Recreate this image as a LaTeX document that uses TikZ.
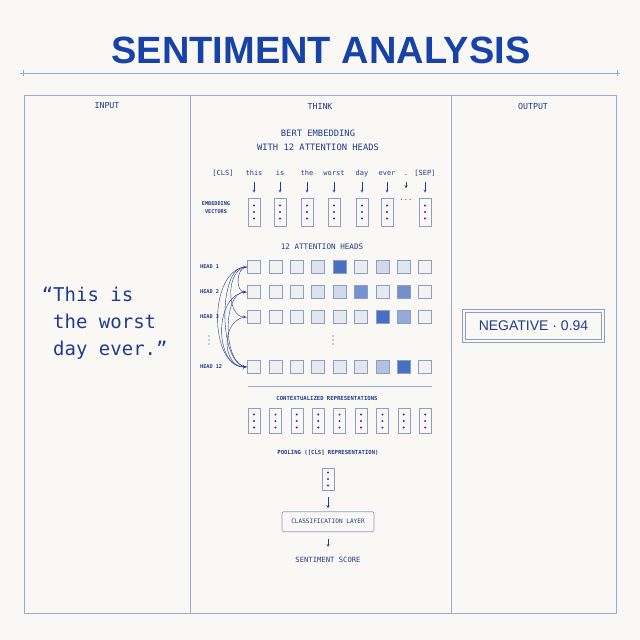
\documentclass[tikz,border=0pt]{standalone}
\usepackage{fontspec}
\setmainfont{Liberation Sans}
\setmonofont{DejaVu Sans Mono}
\usetikzlibrary{positioning}

\definecolor{paper}{HTML}{FAF8F4}
\definecolor{ink}{HTML}{1F3C8F}
\definecolor{headline}{HTML}{1742A8}
\definecolor{framecol}{HTML}{9AAAD4}
\definecolor{cellline}{HTML}{8E9DC5}
\definecolor{heat}{HTML}{2D5DBE}

\tikzset{
  mono/.style={font=\ttfamily\fontsize{#1}{#1}\selectfont, text=ink, inner sep=1pt},
  token/.style={mono=7, text height=5.5pt, text depth=1.5pt},
  tiny/.style={font=\ttfamily\bfseries\fontsize{#1}{#1}\selectfont, text=ink,
    inner sep=1pt, text height=4.2pt, text depth=1pt},
  tiny/.default=5.2,
  vector/.style={draw=cellline, line width=0.6pt, minimum width=12pt,
    minimum height=#1, inner sep=0pt,
    path picture={\foreach \d in {-1,0,1}
      \fill[ink] ([yshift=\d*6.5pt]path picture bounding box.center) circle (1.1pt);}},
  vector/.default=28pt,
  vdotsmark/.style={minimum width=4pt, minimum height=12pt, inner sep=0pt,
    path picture={\foreach \d in {-1,0,1}
      \fill[ink] ([yshift=\d*4pt]path picture bounding box.center) circle (0.7pt);}},
  cell/.style={draw=cellline, line width=0.6pt, minimum size=13pt, inner sep=0pt},
  layerbox/.style={draw=cellline, line width=0.7pt, rounded corners=2pt,
    minimum width=92pt, minimum height=20pt, mono=6.1},
  result/.style={draw=cellline, double=paper, double distance=1.6pt, line width=0.8pt,
    minimum width=139pt, minimum height=30pt,
    font=\fontsize{14}{14}\selectfont, text=ink},
}

\begin{document}
\begin{tikzpicture}[x=1pt, y=-1pt, >=stealth]
\useasboundingbox[fill=paper] (0,0) rectangle (640,640);

% title and rule
\node[font=\bfseries\fontsize{38}{40}\selectfont, text=headline] (title) at (321,50) {SENTIMENT ANALYSIS};
\coordinate (rule-l) at (20,73);
\coordinate (rule-r) at (620,73);
\draw[framecol, line width=0.7pt] (rule-l) -- (rule-r);
\draw[framecol, line width=0.7pt] (23,70) -- (23,76) (617,70) -- (617,76);

% define columns
\draw[framecol, line width=0.8pt] (24,95) rectangle (616,613);
\draw[framecol, line width=0.8pt] (190,95) -- (190,613) (451,95) -- (451,613);
\foreach \l/\x in {INPUT/107, THINK/320, OUTPUT/533}
  \node[mono=8.3] (head-\l) at (\x,106) {\l};

% input sentence
\node[font=\ttfamily\fontsize{19}{27}\selectfont, text=ink, align=left,
  inner sep=0pt, anchor=west] (sentence) at (53,323)
  {\llap{“}This is\\the worst\\day ever.”};

% bert embedding
\node[mono=9, font=\ttfamily\fontsize{8.8}{14}\selectfont, align=center] (bert) at (318,140)
  {BERT EMBEDDING\\WITH 12 ATTENTION HEADS};

\node[token] (cls) at (223,173) {[CLS]};
\foreach \t/\x [count=\i] in {this/254,is/280,the/307,worst/334,day/362,ever/387,./406,[SEP]/425}
  \node[token] (token-\i) at (\x,173) {\t};

\foreach \x [count=\i] in {254,280,307,334,362,387}
  \node[vector] (embed-\i) at (\x,212) {};
\node[token] (embed-7) at (406,198) {...};
\node[vector] (embed-8) at (425,212) {};
\node[tiny, align=center, font=\ttfamily\bfseries\fontsize{5.2}{8}\selectfont] (embed-label) at (216,212) {EMBEDDING\\VECTORS};

% token arrows
\foreach \i in {1,...,8}
  \draw[->, ink, line width=0.4pt, shorten <=4pt, shorten >=5pt] (token-\i) -- (embed-\i);

% attention heads
\node[mono=7.6] (heads-title) at (322,247) {12 ATTENTION HEADS};

\foreach \r/\y/\vals in {1/267/{4,4,6,14,88,8,20,12,4},
                         2/292/{4,4,6,14,20,65,10,68,4},
                         3/317/{4,4,6,12,10,10,88,50,4},
                         12/367/{4,6,6,10,10,12,35,88,4}} {
  \node[tiny, anchor=west] (label-\r) at (199,\y) {HEAD \r};
  \foreach \v [count=\c] in \vals
    \node[cell, fill=heat!\v!paper] (cell-\r-\c) at ({254+(\c-1)*21.4},\y) {};
}
\node[vdotsmark] (label-dots) at (209,340) {};
\node[vdotsmark] (grid-dots) at (333,340) {};

% connect heads
\foreach \a/\b/\l in {1/12/1, 2/12/1.15, 3/12/1.35, 12/1/0.75, 12/2/0.85, 1/2/1.2, 1/3/1.1}
  \draw[->, ink, line width=0.4pt, shorten >=1pt]
    (cell-\a-1.west) to[out=180, in=180, looseness=\l] (cell-\b-1.west);

\draw[framecol, line width=0.7pt] (248,386) -- (432,386);

% contextualized representations
\node[tiny=5.6] (context-title) at (327,399) {CONTEXTUALIZED REPRESENTATIONS};
\foreach \c in {1,...,9}
  \node[vector=25pt] (context-\c) at ({254+(\c-1)*21.4},421) {};

% pooling and classification
\node[tiny=5.6] (pool-title) at (328,453) {POOLING ([CLS] REPRESENTATION)};
\node[vector=22pt] (pool) at (328,479) {};
\node[layerbox, below=21pt of pool] (classify) {CLASSIFICATION LAYER};
\node[mono=7.2, below=24pt of classify] (score) {SENTIMENT SCORE};
\draw[->, ink, line width=0.4pt, shorten <=7pt, shorten >=3pt] (pool) -- (classify);
\draw[->, ink, line width=0.4pt, shorten <=7pt, shorten >=9pt] (classify) -- (score);

% output
\node[result] (result) at (533.5,326) {NEGATIVE · 0.94};

\end{tikzpicture}
\end{document}
